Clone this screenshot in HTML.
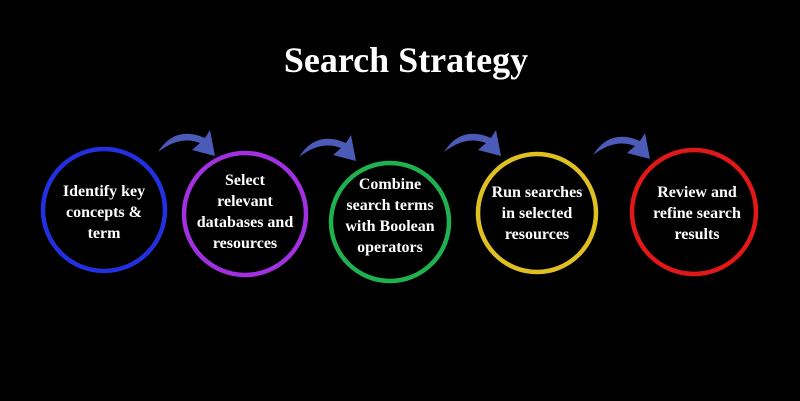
<!DOCTYPE html>
<html><head><style>
body{margin:0;width:800px;height:401px;background:#000;overflow:hidden;position:relative;font-family:"Liberation Serif",serif;}
.t{position:absolute;color:#fff;font-weight:bold;text-align:center;font-size:16px;line-height:21px;width:140px;white-space:nowrap;}
</style></head><body>
<svg width="800" height="401" style="position:absolute;left:0;top:0">
<text x="406" y="72" fill="#fff" font-family="Liberation Serif" font-weight="bold" font-size="36" text-anchor="middle">Search Strategy</text>
<g fill="none" stroke-width="4.5">
<circle cx="104" cy="210" r="61" stroke="#2430e0"/>
<circle cx="245" cy="214" r="61" stroke="#a030e0"/>
<circle cx="390" cy="222" r="59" stroke="#20b050"/>
<circle cx="537" cy="213" r="59" stroke="#e0c020"/>
<circle cx="694" cy="212" r="62" stroke="#e01818"/>
</g>
<g fill="#4c5ab8">
<path d="M158,152 Q175,125 205,138 L210,130 L215,156 L192,150 L200,143 Q180,135 158,152Z"/>
<path d="M299,157 Q316,130 346,143 L351,135 L356,161 L333,155 L341,148 Q321,140 299,157Z"/>
<path d="M444,152 Q461,125 491,138 L496,130 L501,156 L478,150 L486,143 Q466,135 444,152Z"/>
<path d="M593,155 Q610,128 640,141 L645,133 L650,159 L627,153 L635,146 Q615,138 593,155Z"/>
</g>
</svg>
<div class="t" style="left:34px;top:181px">Identify key<br>concepts &amp;<br>term</div>
<div class="t" style="left:175px;top:170px">Select<br>relevant<br>databases and<br>resources</div>
<div class="t" style="left:320px;top:174px">Combine<br>search terms<br>with Boolean<br>operators</div>
<div class="t" style="left:467px;top:182px">Run searches<br>in selected<br>resources</div>
<div class="t" style="left:627px;top:182px">Review and<br>refine search<br>results</div>
</body></html>
